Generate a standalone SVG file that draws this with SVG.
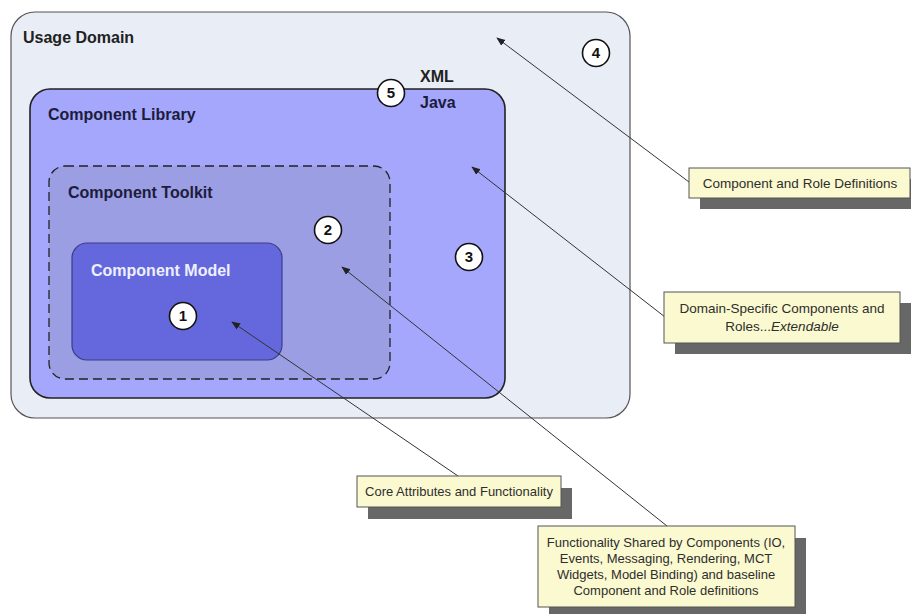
<svg xmlns="http://www.w3.org/2000/svg" width="911" height="614" viewBox="0 0 911 614">
  <defs>
    <marker id="tip" viewBox="0 0 10 10" refX="9" refY="5" markerWidth="9" markerHeight="9" markerUnits="userSpaceOnUse" orient="auto">
      <path d="M0,1 L10,5 L0,9 Z" fill="#222"/>
    </marker>
    <style>
      .title { font-family: "Liberation Sans", Arial, sans-serif; font-weight: bold; font-size: 16px; fill: #1c1c3c; }
      .num { font-family: "Liberation Sans", Arial, sans-serif; font-weight: bold; font-size: 15px; fill: #111; text-anchor: middle; }
      .badge { fill: #fff; stroke: #111; stroke-width: 1.6; }
      .note { fill: #fbf9cf; stroke: #555; stroke-width: 1; }
      .shadow { fill: #676767; }
      .noteText { font-family: "Liberation Sans", Arial, sans-serif; font-size: 13px; fill: #2e2e2e; text-anchor: middle; }
      .big { font-size: 13.5px; }
      .conn { stroke: #333; stroke-width: 1; fill: none; marker-end: url(#tip); }
    </style>
  </defs>
  <rect width="911" height="614" fill="#fff"/>

  <g id="usage-domain">
    <rect x="11" y="12" width="619" height="406" rx="24" fill="#e9edf5" stroke="#555" stroke-width="1.2"/>
    <text class="title" x="23" y="43" style="fill:#222">Usage Domain</text>
  </g>

  <g id="component-library">
    <rect x="30" y="89" width="475" height="309" rx="20" fill="#a4a7fb" stroke="#222" stroke-width="1.6"/>
    <text class="title" x="48" y="120">Component Library</text>
    <text class="title" x="420" y="82" style="fill:#222">XML</text>
    <text class="title" x="420" y="108">Java</text>
  </g>

  <g id="component-toolkit">
    <rect x="49" y="166" width="341" height="213" rx="16" fill="#9b9ee3" stroke="#222" stroke-width="1.3" stroke-dasharray="9,5"/>
    <text class="title" x="68" y="198">Component Toolkit</text>
  </g>

  <g id="component-model">
    <rect x="72" y="243" width="210" height="117" rx="15" fill="#6468dc" stroke="#3a3c8a" stroke-width="1.2"/>
    <text class="title" x="91" y="276" style="fill:#eef0ff">Component Model</text>
  </g>

  <g id="badges">
    <g id="badge-1"><circle class="badge" cx="183" cy="316" r="13.5"/><text class="num" x="183" y="321">1</text></g>
    <g id="badge-2"><circle class="badge" cx="328" cy="230" r="13.5"/><text class="num" x="328" y="235">2</text></g>
    <g id="badge-3"><circle class="badge" cx="469" cy="257" r="13.5"/><text class="num" x="469" y="262">3</text></g>
    <g id="badge-4"><circle class="badge" cx="596" cy="53" r="13.5"/><text class="num" x="596" y="58">4</text></g>
    <g id="badge-5"><circle class="badge" cx="391" cy="93" r="13.5"/><text class="num" x="391" y="98">5</text></g>
  </g>

  <g id="connectors">
    <line class="conn" x1="689" y1="182" x2="497" y2="38"/>
    <line class="conn" x1="665" y1="317" x2="472" y2="167"/>
    <line class="conn" x1="458" y1="476" x2="232" y2="322"/>
    <line class="conn" x1="667" y1="526" x2="342" y2="267"/>
  </g>

  <g id="note-role-definitions">
    <rect class="shadow" x="700" y="179" width="221" height="30"/>
    <rect class="note" x="689" y="168" width="221" height="30"/>
    <text class="noteText big" x="800" y="188">Component and Role Definitions</text>
  </g>

  <g id="note-domain-specific">
    <rect class="shadow" x="675" y="303" width="240" height="51"/>
    <rect class="note" x="664" y="292" width="236" height="51"/>
    <text class="noteText big" x="782" y="313">Domain-Specific Components and</text>
    <text class="noteText big" x="782" y="331">Roles...<tspan font-style="italic">Extendable</tspan></text>
  </g>

  <g id="note-core">
    <rect class="shadow" x="368" y="488" width="204" height="31"/>
    <rect class="note" x="357" y="476" width="204" height="31"/>
    <text class="noteText" x="459" y="496">Core Attributes and Functionality</text>
  </g>

  <g id="note-shared">
    <rect class="shadow" x="549" y="538" width="257" height="80"/>
    <rect class="note" x="538" y="526" width="257" height="81"/>
    <text class="noteText" x="666" y="547">Functionality Shared by Components (IO,</text>
    <text class="noteText" x="666" y="563">Events, Messaging, Rendering, MCT</text>
    <text class="noteText" x="666" y="579">Widgets, Model Binding) and baseline</text>
    <text class="noteText" x="666" y="595">Component and Role definitions</text>
  </g>
</svg>
